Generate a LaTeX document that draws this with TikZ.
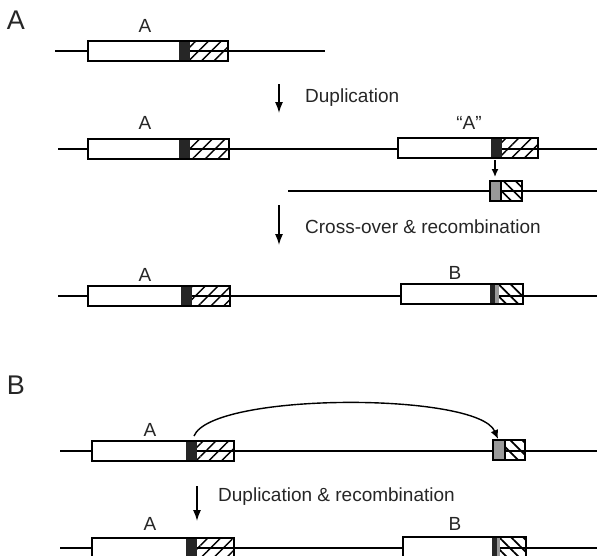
\documentclass[tikz,border=0pt]{standalone}
\usepackage{fontspec}
\setmainfont{Liberation Sans}
\usetikzlibrary{patterns.meta,arrows.meta}
\tikzset{
  dna/.style={line width=1.6pt},
  outline/.style={draw, line width=1.6pt},
  fwdhatch/.style={pattern={Lines[angle=45,distance=9pt,line width=1.4pt]}},
  backhatch/.style={pattern={Lines[angle=-45,distance=8.5pt,line width=1.7pt]}},
  dark/.style={fill=black!85},
  grey/.style={fill=black!40},
  step arrow/.style={line width=1.4pt, -{Latex[length=11pt,width=8pt]}},
  lbl/.style={font=\fontsize{19}{19}\selectfont, inner sep=0pt, text=black!85},
  panel/.style={font=\fontsize{27}{27}\selectfont, inner sep=0pt, text=black!85}
}
\begin{document}
\begin{tikzpicture}[x=1pt,y=-1pt]
\useasboundingbox (0,0) rectangle (597,555);
\clip (0,0) rectangle (597,555);

% panel labels
\node[panel] (pA) at (16,20) {A};
\node[panel] (pB) at (16,385) {B};

% ---- row 1: gene A
\draw[dna] (55,51) -- (325,51);
\fill[white] (88,41) rectangle (179,61);
\fill[dark] (179,41) rectangle (190,61);
\fill[fwdhatch] (190,41) rectangle (228,61);
\draw[outline] (88,41) rectangle (228,61);
\node[lbl] (a1) at (145,26) {A};

\coordinate (d1s) at (279,84);
\coordinate (d1e) at (279,113);
\draw[step arrow] (d1s) -- (d1e);
\node[lbl, anchor=west] (t1) at (305,98) {Duplication};

% ---- row 2: gene A and duplicate "A"
\draw[dna] (58,149) -- (597,149);
\fill[white] (88,139) rectangle (179,159);
\fill[dark] (179,139) rectangle (190,159);
\fill[fwdhatch] (190,139) rectangle (229,159);
\draw[outline] (88,139) rectangle (229,159);
\node[lbl] (a2) at (145,123) {A};

\fill[white] (398,138) rectangle (491,158);
\fill[dark] (491,138) rectangle (502,158);
\fill[fwdhatch] (502,138) rectangle (538,158);
\draw[outline] (398,138) rectangle (538,158);
\node[lbl] (a2q) at (469,123) {“A”};

\coordinate (sas) at (495,160);
\coordinate (sae) at (495,177);
\draw[line width=1.4pt, -{Latex[length=8pt,width=7pt]}] (sas) -- (sae);

% donor fragment
\draw[dna] (288,191) -- (597,191);
\fill[grey] (490,181) rectangle (501,201);
\fill[backhatch] (501,181) rectangle (522,201);
\draw[outline] (490,181) rectangle (522,201);
\draw[outline] (501,181) -- (501,201);

\coordinate (d2s) at (279,205);
\coordinate (d2e) at (279,245);
\draw[step arrow] (d2s) -- (d2e);
\node[lbl, anchor=west] (t2) at (305,227) {Cross-over \& recombination};

% ---- row 3: genes A and B
\draw[dna] (58,296) -- (597,296);
\fill[white] (88,286) rectangle (181,306);
\fill[dark] (181,286) rectangle (192,306);
\fill[fwdhatch] (192,286) rectangle (230,306);
\draw[outline] (88,286) rectangle (230,306);
\node[lbl] (a3) at (145,275) {A};

\fill[white] (401,284) rectangle (490,304);
\fill[dark] (490,284) rectangle (495,304);
\fill[grey] (495,284) rectangle (499,304);
\fill[backhatch] (499,284) rectangle (523,304);
\draw[outline] (401,284) rectangle (523,304);
\node[lbl] (b3) at (455,273) {B};

% ---- panel B, row 4
\draw[dna] (60,451) -- (597,451);
\fill[white] (92,441) rectangle (186,461);
\fill[dark] (186,441) rectangle (197,461);
\fill[fwdhatch] (197,441) rectangle (234,461);
\draw[outline] (92,441) rectangle (234,461);
\node[lbl] (a4) at (150,430) {A};

\fill[grey] (493,440) rectangle (505,460);
\fill[backhatch] (505,440) rectangle (525,460);
\draw[outline] (493,440) rectangle (525,460);
\draw[outline] (505,440) -- (505,460);

\coordinate (arcs) at (194,436);
\coordinate (arce) at (498,439);
\draw[line width=1.4pt, -{Latex[length=9pt,width=8pt]}]
  (arcs) .. controls (212,392) and (478,392) .. (arce);

\coordinate (d3s) at (197,486);
\coordinate (d3e) at (197,521);
\draw[step arrow] (d3s) -- (d3e);
\node[lbl, anchor=west] (t3) at (218,497) {Duplication \& recombination};

% ---- row 5
\draw[dna] (60,548) -- (597,548);
\fill[white] (92,538) rectangle (186,558);
\fill[dark] (186,538) rectangle (197,558);
\fill[fwdhatch] (197,538) rectangle (234,558);
\draw[outline] (92,538) rectangle (234,558);
\node[lbl] (a5) at (150,524) {A};

\fill[white] (403,537) rectangle (492,557);
\fill[dark] (492,537) rectangle (497,557);
\fill[grey] (497,537) rectangle (500,557);
\fill[backhatch] (500,537) rectangle (526,557);
\draw[outline] (403,537) rectangle (526,557);
\node[lbl] (b5) at (455,524) {B};
\end{tikzpicture}
\end{document}
